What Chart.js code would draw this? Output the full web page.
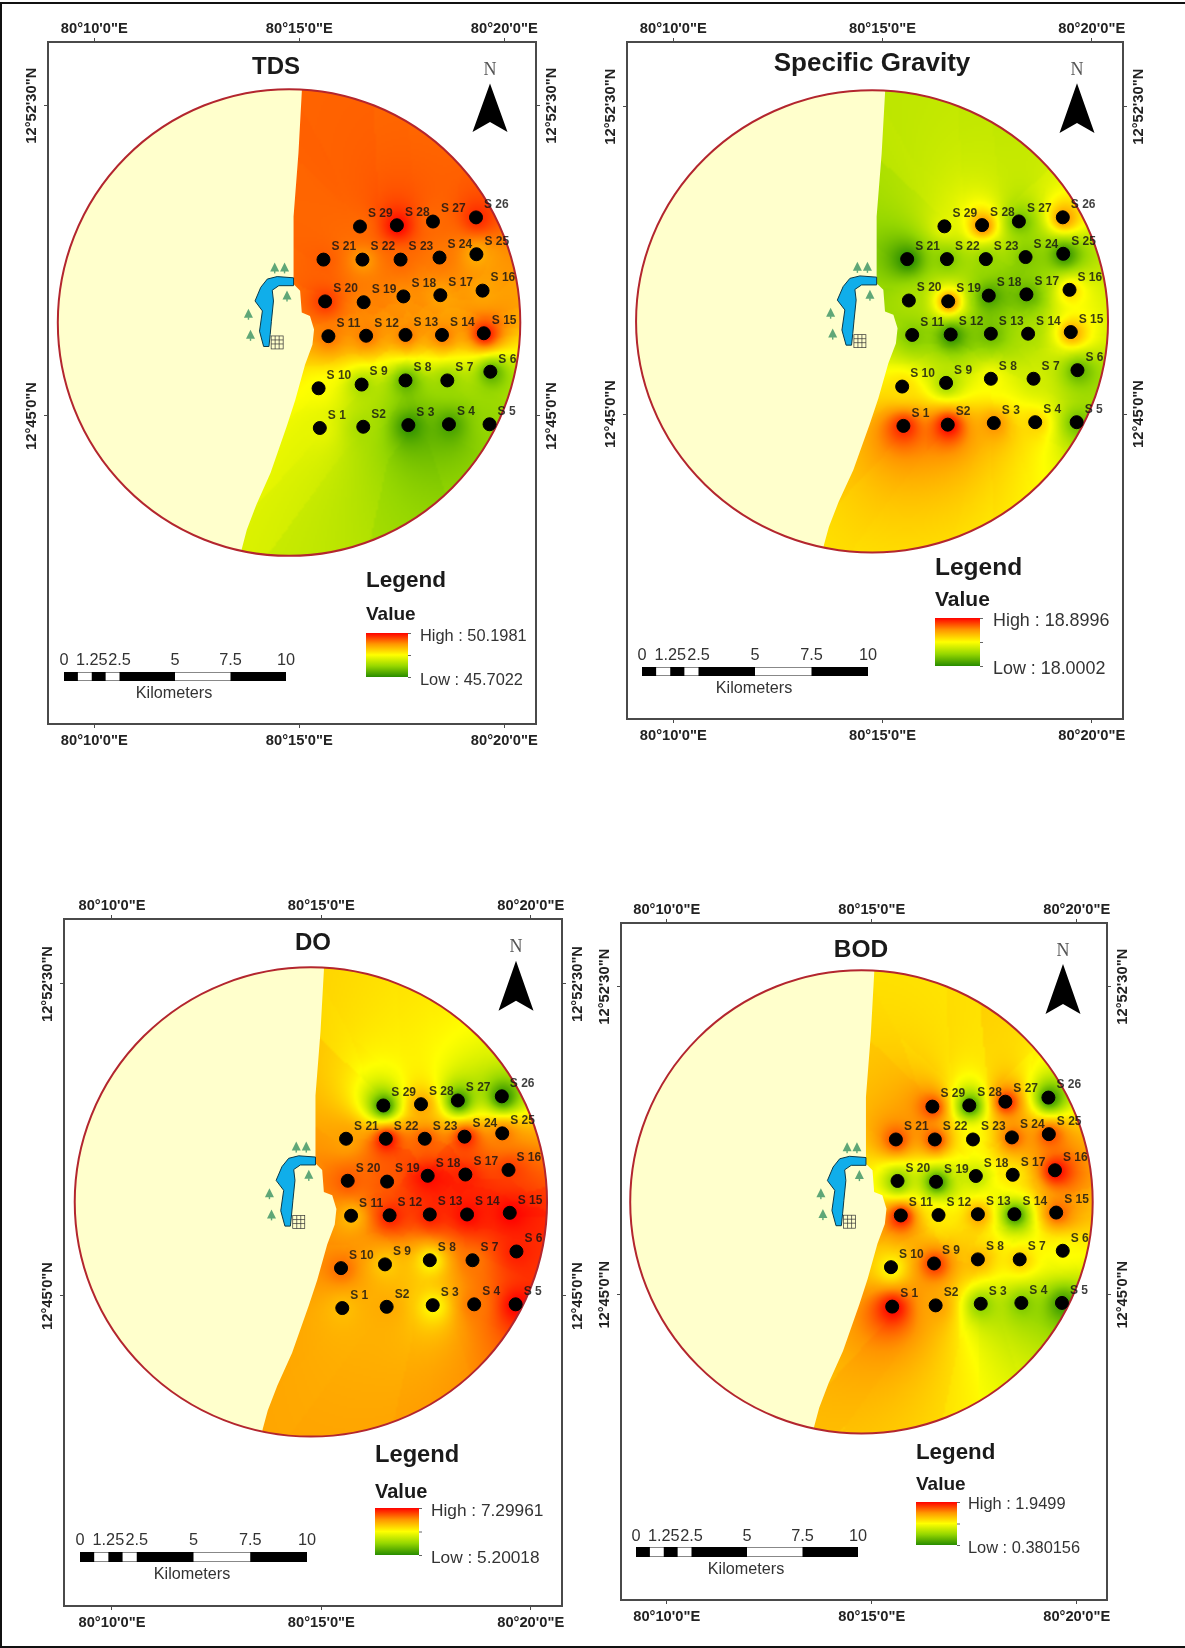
<!DOCTYPE html>
<html>
<head>
<meta charset="utf-8">
<title>Water quality maps</title>
<script src="https://cdn.jsdelivr.net/npm/chart.js@4"></script>
<style>
  html, body { margin:0; padding:0; background:#fff; }
  #page { position:relative; width:1185px; height:1648px; overflow:hidden; }
  #page canvas { position:absolute; filter:blur(0.4px); }
  #border { position:absolute; left:0; top:2px; right:0; bottom:0; border:solid #111; border-width:2px 0 2px 2px; }
</style>
</head>
<body>
<div id="page"><div id="border"></div></div>
<script>
// positions in arc minutes past 80 deg E / 12 deg N
const stationNames = ['S 1','S2','S 3','S 4','S 5','S 6','S 7','S 8','S 9','S 10','S 11','S 12','S 13','S 14','S 15',
  'S 16','S 17','S 18','S 19','S 20','S 21','S 22','S 23','S 24','S 25','S 26','S 27','S 28','S 29'];
const stationLon = [15.50,16.56,17.66,18.65,19.64,19.66,18.61,17.59,16.52,15.47,15.71,16.63,17.59,18.48,19.50,
  19.47,18.44,17.54,16.57,15.63,15.59,16.54,17.47,18.42,19.32,19.31,18.26,17.38,16.48];
const stationLat = [44.71,44.74,44.78,44.80,44.80,46.07,45.86,45.86,45.76,45.67,46.93,46.94,46.96,46.96,47.00,
  48.03,47.92,47.89,47.75,47.77,48.78,48.78,48.78,48.83,48.91,49.80,49.70,49.61,49.58];

const tdsValues = [47.7,47.0,45.8,46.0,46.8,46.2,46.8,46.2,47.0,47.9,49.3,49.3,49.3,49.3,50.1,
  48.9,48.9,49.1,49.2,49.8,49.5,49.0,49.4,49.3,48.8,49.9,49.4,50.2,49.4];
const sgValues = [18.85,18.90,18.68,18.55,18.15,18.12,18.35,18.45,18.25,18.52,18.18,18.01,18.14,18.27,18.65,
  18.54,18.10,18.05,18.72,18.27,18.00,18.18,18.22,18.18,18.02,18.67,18.14,18.72,18.40];
const doValues = [6.57,6.67,6.25,6.88,7.30,7.20,6.88,6.25,6.50,6.92,6.57,7.20,7.20,7.28,7.30,
  7.09,7.20,7.28,6.99,6.99,6.71,7.29,6.99,7.20,6.88,5.21,5.22,6.71,5.20];
const bodValues = [1.95,1.51,0.73,0.69,0.45,1.17,1.35,1.45,1.82,1.17,1.92,1.24,1.51,0.42,1.71,
  1.95,1.24,0.93,0.40,0.69,1.76,1.79,1.17,1.71,1.76,0.42,1.87,0.42,1.79];

const panelTitles = ['TDS','Specific Gravity','DO','BOD'];
const panelSeries = [tdsValues,sgValues,doValues,bodValues];
const panelHigh = [50.1981,18.8996,7.29961,1.9499];
const panelLow = [45.7022,18.0002,5.20018,0.380156];
const highLabels = ['50.1981','18.8996','7.29961','1.9499'];
const lowLabels = ['45.7022','18.0002','5.20018','0.380156'];

const xTickValues = [10,15,20];
const xTickLabels = ['80°10\'0"E','80°15\'0"E','80°20\'0"E'];
const yTickValues = [45,52.5];
const yTickLabels = ['12°45\'0"N','12°52\'30"N'];
const scaleKm = [0,1.25,2.5,5,7.5,10];
const scaleKmLabels = ['0','1.25','2.5','5','7.5','10'];

// study area circle and the edge of the interpolated surface
const areaLon = 14.75, areaLat = 47.26, areaRadius = 5.64;
const surfaceEdgeLon = [15.07,14.98,14.86,14.86,15.02,15.06,15.26,15.36,15.32,15.14,14.90,14.70,14.30,13.95,13.72,13.60,13.45];
const surfaceEdgeLat = [53.00,51.36,49.82,48.19,48.03,47.50,47.42,47.09,46.72,46.24,45.38,44.77,43.63,42.85,42.25,41.80,41.00];
const lakeLon = [14.86,14.86,14.50,14.34,14.37,14.32,14.29,14.26,14.13,14.03,14.10,13.92,14.06,14.22,14.46];
const lakeLat = [48.34,48.15,48.15,48.04,47.78,47.29,46.97,46.68,46.68,47.05,47.54,47.78,48.11,48.31,48.37];
const treeLon = [14.40,14.64,14.70,13.76,13.81];
const treeLat = [48.58,48.58,47.90,47.46,46.95];

// page pixels of each map: frame, axis ticks, furniture
const layouts = [
  { frame:[48,42,536,724], x10:94.3, x20:504.3, y525:105.7, y45:416, titleXY:[276,65], titleSize:24, north:[490,68,83.4,132],
    legend:[366,579,613], legendSizes:[22.5,19], ramp:[366,408,633,677], text:[420,634,678], textSize:16.4, bar:[64,286,672,681], barText:659, km:[174,692] },
  { frame:[627,42,1123,719], x10:673.3, x20:1091.7, y525:106.7, y45:414, titleXY:[872,62], titleSize:26, north:[1077,68,83.3,133],
    legend:[935,566,598], legendSizes:[24.5,21], ramp:[935,980,618,666], text:[993,619,667], textSize:17.9, bar:[642,868,667,676], barText:654, km:[754,687] },
  { frame:[64,919,562,1606], x10:112, x20:530.7, y525:984, y45:1296, titleXY:[313,941], titleSize:24, north:[516,945,960.7,1010.7],
    legend:[375,1453,1490], legendSizes:[23.7,20], ramp:[375,419,1508,1555], text:[431,1509,1556], textSize:17.3, bar:[80,307,1552,1562], barText:1539, km:[192,1573] },
  { frame:[621,923,1107,1600], x10:666.7, x20:1076.7, y525:986.7, y45:1294.7, titleXY:[861,948], titleSize:24.5, north:[1063,949,964,1014],
    legend:[916,1451,1483], legendSizes:[22.3,19], ramp:[916,957,1502,1545], text:[968,1502,1546], textSize:16.4, bar:[636,858,1547,1557], barText:1535, km:[746,1568] }
];
const marginX = 28, marginY = 32;
const textDrop = 2;

const rampStops = [[0,[40,140,0]],[0.25,[150,215,0]],[0.5,[255,255,0]],[0.75,[255,150,0]],[1,[255,0,0]]];

function rampColor(t){
  t = Math.max(0, Math.min(1, t));
  for(let i = 1; i < rampStops.length; i++){
    if(t <= rampStops[i][0]){
      const a = rampStops[i-1], b = rampStops[i], f = (t - a[0]) / (b[0] - a[0]);
      return [0,1,2].map(k => a[1][k] + (b[1][k] - a[1][k]) * f);
    }
  }
  return rampStops[rampStops.length-1][1];
}

// inverse distance weighting on the 12 closest stations, as the GIS surface does
function surfaceValue(lon, lat, values){
  const near = [];
  for(let i = 0; i < values.length; i++){
    const dx = lon - stationLon[i], dy = lat - stationLat[i];
    near.push([dx*dx + dy*dy, values[i]]);
  }
  near.sort((a,b) => a[0] - b[0]);
  let sum = 0, weight = 0;
  for(let i = 0; i < 12; i++){
    const w = 1 / (near[i][0] + 0.0004);
    sum += w * near[i][1]; weight += w;
  }
  return sum / weight;
}

function drawSurface(chart, panel){
  const {ctx, chartArea:a, scales:{x, y}} = chart;
  const step = 2, w = Math.ceil(a.width/step), h = Math.ceil(a.height/step);
  const off = document.createElement('canvas');
  off.width = w; off.height = h;
  const octx = off.getContext('2d');
  const img = octx.createImageData(w, h);
  const high = panelHigh[panel], low = panelLow[panel], values = panelSeries[panel];
  for(let j = 0; j < h; j++){
    const lat = y.getValueForPixel(a.top + j*step);
    for(let i = 0; i < w; i++){
      const lon = x.getValueForPixel(a.left + i*step);
      const dx = lon - areaLon, dy = lat - areaLat;
      if(lon < 13 || dx*dx + dy*dy > 36) continue;
      const c = rampColor((surfaceValue(lon, lat, values) - low) / (high - low));
      const p = (j*w + i) * 4;
      img.data[p] = c[0]; img.data[p+1] = c[1]; img.data[p+2] = c[2]; img.data[p+3] = 255;
    }
  }
  octx.putImageData(img, 0, 0);

  const cx = x.getPixelForValue(areaLon), cy = y.getPixelForValue(areaLat);
  const rx = Math.abs(x.getPixelForValue(areaLon + areaRadius) - cx);
  const ry = Math.abs(y.getPixelForValue(areaLat + areaRadius) - cy);

  ctx.save();
  ctx.beginPath(); ctx.ellipse(cx, cy, rx, ry, 0, 0, Math.PI*2);
  ctx.fillStyle = '#ffffcc'; ctx.fill();
  ctx.clip();
  ctx.beginPath();
  surfaceEdgeLon.forEach((lon,i) => ctx.lineTo(x.getPixelForValue(lon), y.getPixelForValue(surfaceEdgeLat[i])));
  ctx.lineTo(a.right, a.bottom); ctx.lineTo(a.right, a.top);
  ctx.closePath(); ctx.clip();
  ctx.imageSmoothingEnabled = true;
  ctx.drawImage(off, a.left, a.top, w*step, h*step);
  ctx.restore();

  // lake, trees and the small town block
  ctx.beginPath();
  lakeLon.forEach((lon,i) => ctx.lineTo(x.getPixelForValue(lon), y.getPixelForValue(lakeLat[i])));
  ctx.closePath();
  ctx.fillStyle = '#10aeea'; ctx.strokeStyle = '#0b3a4a'; ctx.lineWidth = 1; ctx.fill(); ctx.stroke();
  ctx.fillStyle = '#5fa777';
  treeLon.forEach((lon,i) => {
    const px = x.getPixelForValue(lon), py = y.getPixelForValue(treeLat[i]);
    ctx.beginPath(); ctx.moveTo(px, py-5.5); ctx.lineTo(px+4.5, py+3.5); ctx.lineTo(px-4.5, py+3.5); ctx.closePath(); ctx.fill();
    ctx.fillRect(px-0.7, py+3, 1.4, 2.5);
  });
  const gx = x.getPixelForValue(14.46), gy = y.getPixelForValue(46.79);
  ctx.strokeStyle = '#333'; ctx.lineWidth = 0.7;
  ctx.strokeRect(gx-6, gy-6, 12, 13);
  ctx.beginPath();
  ctx.moveTo(gx-2, gy-6); ctx.lineTo(gx-2, gy+7); ctx.moveTo(gx+2, gy-6); ctx.lineTo(gx+2, gy+7);
  ctx.moveTo(gx-6, gy-2); ctx.lineTo(gx+6, gy-2); ctx.moveTo(gx-6, gy+2); ctx.lineTo(gx+6, gy+2);
  ctx.stroke();

  ctx.beginPath(); ctx.ellipse(cx, cy, rx, ry, 0, 0, Math.PI*2);
  ctx.strokeStyle = '#b3262e'; ctx.lineWidth = 2; ctx.stroke();
}

function drawFurniture(chart, panel, ox, oy){
  const {ctx} = chart;
  const L = layouts[panel];
  ctx.save();
  ctx.translate(-ox, -oy);
  ctx.textBaseline = 'middle';

  ctx.fillStyle = '#1a1a1a'; ctx.textAlign = 'center';
  ctx.font = 'bold ' + L.titleSize + 'px "Liberation Sans"';
  ctx.fillText(panelTitles[panel], L.titleXY[0], L.titleXY[1] + textDrop);

  // north arrow
  const [nx, ny, apex, base] = L.north;
  ctx.fillStyle = '#555'; ctx.font = '18px "Liberation Serif"';
  ctx.fillText('N', nx, ny + textDrop);
  ctx.fillStyle = '#000';
  ctx.beginPath(); ctx.moveTo(nx, apex); ctx.lineTo(nx+17.5, base); ctx.lineTo(nx, base-10); ctx.lineTo(nx-17.5, base); ctx.closePath(); ctx.fill();

  // legend
  ctx.textAlign = 'left'; ctx.fillStyle = '#1a1a1a';
  ctx.font = 'bold ' + L.legendSizes[0] + 'px "Liberation Sans"';
  ctx.fillText('Legend', L.legend[0], L.legend[1] + textDrop);
  ctx.font = 'bold ' + L.legendSizes[1] + 'px "Liberation Sans"';
  ctx.fillText('Value', L.legend[0], L.legend[2] + textDrop);
  const [rl, rr, rt, rb] = L.ramp;
  const g = ctx.createLinearGradient(0, rb, 0, rt);
  rampStops.forEach(s => g.addColorStop(s[0], 'rgb(' + s[1].join(',') + ')'));
  ctx.fillStyle = g; ctx.fillRect(rl, rt, rr-rl, rb-rt);
  ctx.strokeStyle = '#666'; ctx.lineWidth = 1;
  ctx.beginPath();
  [rt, (rt+rb)/2, rb].forEach(v => { ctx.moveTo(rr, v+0.5); ctx.lineTo(rr+3, v+0.5); });
  ctx.stroke();
  ctx.fillStyle = '#333'; ctx.font = L.textSize + 'px "Liberation Sans"';
  ctx.fillText('High : ' + highLabels[panel], L.text[0], L.text[1] + textDrop);
  ctx.fillText('Low : ' + lowLabels[panel], L.text[0], L.text[2] + textDrop);

  // scale bar
  const [bl, br, bt, bb] = L.bar, perKm = (br-bl)/10;
  const barParts = [[0,0.625,1],[0.625,1.25,0],[1.25,1.875,1],[1.875,2.5,0],[2.5,5,1],[5,7.5,0],[7.5,10,1]];
  ctx.fillStyle = '#fff'; ctx.fillRect(bl, bt, br-bl, bb-bt);
  ctx.strokeStyle = '#888'; ctx.strokeRect(bl+0.5, bt+0.5, br-bl-1, bb-bt-1);
  ctx.fillStyle = '#000';
  barParts.forEach(p => { if(p[2]) ctx.fillRect(bl + p[0]*perKm, bt, (p[1]-p[0])*perKm, bb-bt); });
  ctx.fillStyle = '#333'; ctx.textAlign = 'center';
  ctx.font = '16.3px "Liberation Sans"';
  scaleKm.forEach((km,i) => ctx.fillText(scaleKmLabels[i], bl + km*perKm, L.barText + textDrop));
  ctx.font = '16.2px "Liberation Sans"';
  ctx.fillText('Kilometers', L.km[0], L.km[1] + textDrop);
  ctx.restore();
}

const mapPlugin = {
  id:'mapPlugin',
  beforeDatasetsDraw(chart, args, opts){
    drawSurface(chart, opts.panel);
    drawFurniture(chart, opts.panel, opts.ox, opts.oy);
  },
  afterDatasetsDraw(chart){
    const {ctx} = chart;
    const points = chart.getDatasetMeta(0).data;
    ctx.save();
    ctx.font = 'bold 12px "Liberation Sans"';
    ctx.textAlign = 'left'; ctx.textBaseline = 'middle';
    ctx.fillStyle = 'rgba(20,20,20,.82)';
    points.forEach((pt,i) => ctx.fillText(stationNames[i], pt.x + 8, pt.y - 14.5 + textDrop));
    ctx.restore();
  }
};

function makeAxis(position, min, max, values, labels){
  const isY = position === 'left' || position === 'right';
  const tickOpts = isY
    ? { minRotation:90, maxRotation:90, crossAlign:'center', padding:-26.3 }
    : { maxRotation:0, padding: position === 'top' ? 0 : 4 };
  return {
    type:'linear', position, min, max, offset:false,
    border:{ display:true, color:'#4a4a4a', width:2 },
    grid:{ display:true, drawOnChartArea:false, drawTicks:true, tickLength:4, color:'#4a4a4a', lineWidth:1 },
    afterBuildTicks:(axis) => { axis.ticks = values.map(v => ({value:v})); },
    afterFit:(axis) => { if(isY) axis.width = marginX; else axis.height = marginY; },
    ticks:{
      autoSkip:false, color:'#222',
      font:{ family:'"Liberation Sans"', size:14.7, weight:'bold' },
      callback:(v) => labels[values.indexOf(v)],
      ...tickOpts
    }
  };
}

function makeMap(panel){
  const L = layouts[panel];
  const [fl, ft, fr, fb] = L.frame;
  const pxLon = (L.x20 - L.x10) / 10, pxLat = (L.y45 - L.y525) / 7.5;
  const lonMin = 10 - (L.x10 - fl) / pxLon, lonMax = 20 + (fr - L.x20) / pxLon;
  const latMax = 52.5 + (L.y525 - ft) / pxLat, latMin = 45 - (fb - L.y45) / pxLat;

  const canvas = document.createElement('canvas');
  const ox = fl - marginX, oy = ft - marginY;
  canvas.width = fr - fl + marginX*2;
  canvas.height = fb - ft + marginY*2;
  canvas.style.left = ox + 'px';
  canvas.style.top = oy + 'px';
  document.getElementById('page').appendChild(canvas);

  return new Chart(canvas, {
    type:'scatter',
    data:{ datasets:[{
      data: stationLon.map((lon,i) => ({ x:lon, y:stationLat[i] })),
      backgroundColor:'#000', borderColor:'#000', pointRadius:6.5, pointHoverRadius:6.5
    }]},
    options:{
      responsive:false, animation:false, events:[],
      layout:{ padding:0 },
      plugins:{ legend:{ display:false }, tooltip:{ enabled:false }, mapPlugin:{ panel, ox, oy } },
      scales:{
        x: makeAxis('bottom', lonMin, lonMax, xTickValues, xTickLabels),
        x2: makeAxis('top', lonMin, lonMax, xTickValues, xTickLabels),
        y: makeAxis('left', latMin, latMax, yTickValues, yTickLabels),
        y2: makeAxis('right', latMin, latMax, yTickValues, yTickLabels)
      }
    },
    plugins:[mapPlugin]
  });
}

[0,1,2,3].forEach(makeMap);
</script>
</body>
</html>
